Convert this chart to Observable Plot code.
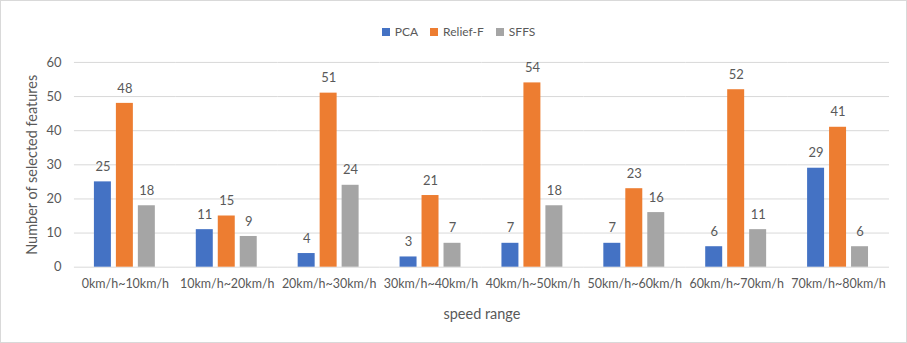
<!DOCTYPE html>
<html>
<head>
<meta charset="utf-8">
<script src="https://cdn.jsdelivr.net/npm/d3@7"></script>
<script src="https://cdn.jsdelivr.net/npm/@observablehq/plot@0.6"></script>
<style>
  html, body { margin: 0; padding: 0; background: #fff; }
  #wrap { position: relative; width: 907px; height: 343px; box-sizing: border-box; border: 1px solid #d9d9d9; overflow: hidden; font-family: Lato, "Open Sans", sans-serif; }
  #legend { position: absolute; top: 23px; left: 4px; width: 907px; height: 16px; display: flex; justify-content: center; align-items: center; gap: 12px; font-size: 12px; line-height: 16px; color: #595959; }
  #legend .item { display: flex; align-items: center; gap: 5px; }
  #legend .sw { width: 8px; height: 8px; display: inline-block; }
  #chart { position: absolute; left: -1px; top: -1px; }
  #chart svg [aria-label="y-axis label"], #chart svg [aria-label="fx-axis label"] { font-size: 14.5px; }
</style>
</head>
<body>
<div id="wrap">
  <div id="legend"></div>
  <div id="chart"></div>
</div>
<script>
const categories = ["0km/h~10km/h", "10km/h~20km/h", "20km/h~30km/h", "30km/h~40km/h", "40km/h~50km/h", "50km/h~60km/h", "60km/h~70km/h", "70km/h~80km/h"];
const seriesNames = ["PCA", "Relief-F", "SFFS"];
const pcaValues = [25, 11, 4, 3, 7, 7, 6, 29];
const reliefValues = [48, 15, 51, 21, 54, 23, 52, 41];
const sffsValues = [18, 9, 24, 7, 18, 16, 11, 6];
const seriesColors = ["#4472C4", "#ED7D31", "#A5A5A5"];
const yTicks = [0, 10, 20, 30, 40, 50, 60];

const valuesBySeries = [pcaValues, reliefValues, sffsValues];
const data = [];
categories.forEach((cat, i) => {
  seriesNames.forEach((s, j) => {
    data.push({cat, series: s, value: valuesBySeries[j][i]});
  });
});

// legend
const legend = document.getElementById("legend");
seriesNames.forEach((s, j) => {
  const it = document.createElement("span");
  it.className = "item";
  const sw = document.createElement("span");
  sw.className = "sw";
  sw.style.background = seriesColors[j];
  it.appendChild(sw);
  it.appendChild(document.createTextNode(s));
  legend.appendChild(it);
});

const textColor = "#595959";
const chart = Plot.plot({
  width: 907,
  height: 343,
  marginTop: 62,
  marginBottom: 76,
  marginLeft: 73,
  marginRight: 17,
  style: { fontFamily: "Lato, 'Open Sans', sans-serif", fontSize: "13px", color: textColor, background: "transparent" },
  fx: { domain: categories, paddingInner: 0, paddingOuter: 0 },
  x: { domain: seriesNames, paddingInner: 0.227, paddingOuter: 0.93, axis: null },
  y: { domain: [0, 60] },
  color: { domain: seriesNames, range: seriesColors },
  marks: [
    Plot.gridY(yTicks, { stroke: "#d9d9d9", strokeOpacity: 1, strokeWidth: 1 }),
    Plot.axisY(yTicks, { anchor: "left", tickSize: 0, tickPadding: 13, fontSize: 13, fill: textColor,
      label: "Number of selected features", labelAnchor: "center", labelOffset: 48, labelArrow: "none" }),
    Plot.axisFx({ anchor: "bottom", tickSize: 0, tickPadding: 12, fontSize: 12.5, fill: textColor,
      label: "speed range", labelAnchor: "center", labelOffset: 52, labelArrow: "none" }),
    Plot.barY(data, { fx: "cat", x: "series", y: "value", fill: "series" }),
    Plot.text(data, { fx: "cat", x: "series", y: "value", text: d => String(d.value), dy: -15, fontSize: 13, fill: textColor })
  ]
});
chart.querySelectorAll('[aria-label="y-axis label"] text, [aria-label="fx-axis label"] text').forEach(t => t.style.fontSize = "14.5px");
document.getElementById("chart").appendChild(chart);
</script>
</body>
</html>
